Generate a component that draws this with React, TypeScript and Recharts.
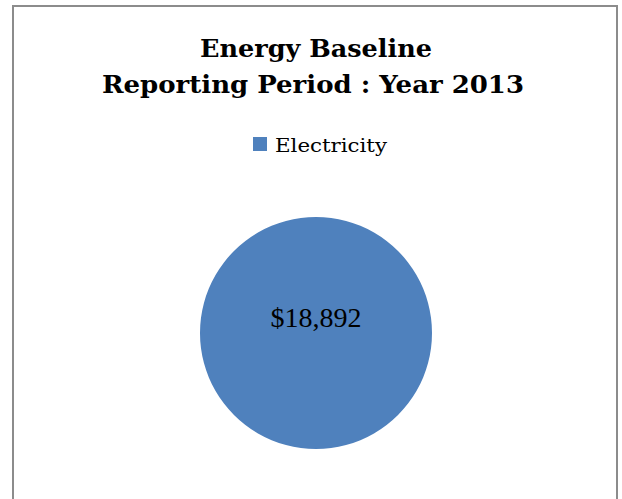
import React from 'react';
import { PieChart, Pie, Cell, Legend } from 'recharts';

const categories = ['Electricity'];
const values = [18892];
const colors = ['#4F81BD'];
const titleLines = ['Energy Baseline', 'Reporting Period : Year 2013'];

const data = categories.map((name, i) => ({ name, value: values[i] }));

const fmt = (v: number) => '$' + v.toLocaleString('en-US');

const renderLabel = (props: any) => {
  const { cx, cy, value } = props;
  return (
    <text
      x={cx}
      y={cy - 6}
      textAnchor="middle"
      fontFamily="'Liberation Serif', serif"
      fontSize={28}
      fill="#000"
    >
      {fmt(value)}
    </text>
  );
};

const renderLegend = (props: any) => {
  const { payload } = props;
  return (
    <svg width={622} height={30} style={{ display: 'block' }}>
      {(payload || []).map((entry: any, i: number) => (
        <g key={i}>
          <rect x={253} y={7} width={14} height={14} fill={entry.color} />
          <text
            x={275}
            y={22}
            fontFamily="'DejaVu Serif', serif"
            fontSize={18}
            fill="#000"
            textLength={112}
            lengthAdjust="spacingAndGlyphs"
          >
            {entry.value}
          </text>
        </g>
      ))}
    </svg>
  );
};

export default function App() {
  return (
    <div style={{ position: 'absolute', left: 0, top: 0, width: 622, height: 499, overflow: 'hidden', background: '#fff' }}>
      <div
        style={{
          position: 'absolute',
          left: 12,
          top: 5,
          width: 606,
          height: 520,
          border: '2px solid #8c8c8c',
          boxSizing: 'border-box',
        }}
      />
      <svg width={622} height={110} style={{ position: 'absolute', left: 0, top: 0 }}>
        <text
          x={316}
          y={57}
          textAnchor="middle"
          fontFamily="'DejaVu Serif', serif"
          fontWeight="bold"
          fontSize={24.5}
          fill="#000"
          textLength={232}
          lengthAdjust="spacingAndGlyphs"
        >
          {titleLines[0]}
        </text>
        <text
          x={313}
          y={93}
          textAnchor="middle"
          fontFamily="'DejaVu Serif', serif"
          fontWeight="bold"
          fontSize={24.5}
          fill="#000"
          textLength={422}
          lengthAdjust="spacingAndGlyphs"
        >
          {titleLines[1]}
        </text>
      </svg>
      <div style={{ position: 'absolute', left: 0, top: 0 }}>
        <PieChart width={622} height={499} margin={{ top: 0, right: 0, bottom: 0, left: 0 }}>
          <Legend
            verticalAlign="middle"
            align="center"
            content={renderLegend}
            wrapperStyle={{ top: 130, left: 0, width: 622, height: 30 }}
          />
          <Pie
            data={data}
            dataKey="value"
            nameKey="name"
            cx={316}
            cy={333}
            outerRadius={116}
            startAngle={90}
            endAngle={-270}
            stroke="none"
            label={renderLabel}
            labelLine={false}
            isAnimationActive={false}
          >
            {data.map((d, i) => (
              <Cell key={d.name} fill={colors[i % colors.length]} />
            ))}
          </Pie>
        </PieChart>
      </div>
    </div>
  );
}
